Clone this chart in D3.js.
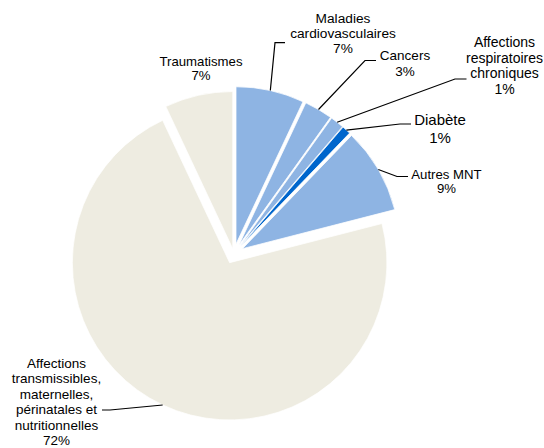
<!DOCTYPE html>
<html>
<head>
<meta charset="utf-8">
<script src="https://cdn.jsdelivr.net/npm/d3@7"></script>
<style>
  body { margin: 0; background: #fff; }
  svg text { font-family: "Liberation Sans", Arial, sans-serif; fill: #000; }
</style>
</head>
<body>
<svg id="svg_pie" width="544" height="448"></svg>
<script>
// data
var categories = [
	["Maladies", "cardiovasculaires"],
	["Cancers"],
	["Affections", "respiratoires", "chroniques"],
	["Diabète"],
	["Autres MNT"],
	["Affections", "transmissibles,", "maternelles,", "périnatales et", "nutritionnelles"],
	["Traumatismes"]
];
var values = [7, 2.9, 1.4, 0.9, 8.8, 72, 7];
var groups = ["mnt", "mnt", "mnt", "diab", "mnt", "other", "other"];

// styling / layout
var colours = { mnt: "#8EB4E3", diab: "#0066CC", other: "#EEECE1" };
var explode = [9.9, 9.9, 9.9, 9.9, 9.9, 9.9, 5];
var labelPos = [
	{x: 343, y: 22.7, lh: 15.3, size: 13.7, elbow: [275, 42.7], end: [285, 42.7]},
	{x: 405, y: 60, lh: 16, size: 13.5, elbow: [365, 60.5], end: [376, 60.5]},
	{x: 504.5, y: 47, lh: 15.5, size: 14, elbow: [455, 79], end: [466.5, 79]},
	{x: 440, y: 125, lh: 17.5, size: 15, elbow: [400, 124], end: [411, 124]},
	{x: 446.5, y: 179, lh: 14, size: 13.2, elbow: [397, 176.5], end: [408, 176.5]},
	{x: 56.5, y: 368, lh: 15.4, size: 13.5, elbow: [110, 410], end: [102, 410]},
	{x: 201, y: 66, lh: 14, size: 13.2, elbow: null, end: null}
];

var svg = d3.select("svg#svg_pie");
var cx = 233.85, cy = 253.7, radius = 157.3;

var pie = d3.pie().sort(null).value(function(d) { return d; });
var arcs = pie(values);

var arc = d3.arc().innerRadius(0).outerRadius(radius);
var edge = d3.arc().innerRadius(radius).outerRadius(radius);
var fmt = function(v) { return Math.round(v) + "%"; };

var g = svg.append("g")
	.attr("transform", "translate(" + cx + "," + cy + ")");

// offset of each slice along its bisector
var shift = function(d, i) {
	var a = (d.startAngle + d.endAngle) / 2;
	return [Math.sin(a) * explode[i], -Math.cos(a) * explode[i]];
};

g.selectAll("path.slice")
	.data(arcs)
	.enter().append("path")
	.attr("class", "slice")
	.attr("transform", function(d, i) { var s = shift(d, i); return "translate(" + s[0] + "," + s[1] + ")"; })
	.attr("d", arc)
	.attr("fill", function(d, i) { return colours[groups[i]]; })
	.attr("stroke", "#fff")
	.attr("stroke-width", 0.75);

// leader lines
arcs.forEach(function(d, i) {
	var p = labelPos[i];
	if (!p.elbow) return;
	var s = shift(d, i);
	var c = edge.centroid(d);
	var pts = [[cx + c[0] + s[0], cy + c[1] + s[1]], p.elbow, p.end];
	svg.append("path")
		.attr("d", d3.line()(pts))
		.attr("fill", "none")
		.attr("stroke", "#000")
		.attr("stroke-width", 1.2);
});

// labels
categories.forEach(function(lines, i) {
	var p = labelPos[i];
	var t = svg.append("text")
		.attr("text-anchor", "middle")
		.attr("font-size", p.size);
	lines.concat([fmt(values[i])]).forEach(function(s, k) {
		t.append("tspan")
			.attr("x", p.x)
			.attr("y", p.y + k * p.lh)
			.text(s);
	});
});
</script>
</body>
</html>
